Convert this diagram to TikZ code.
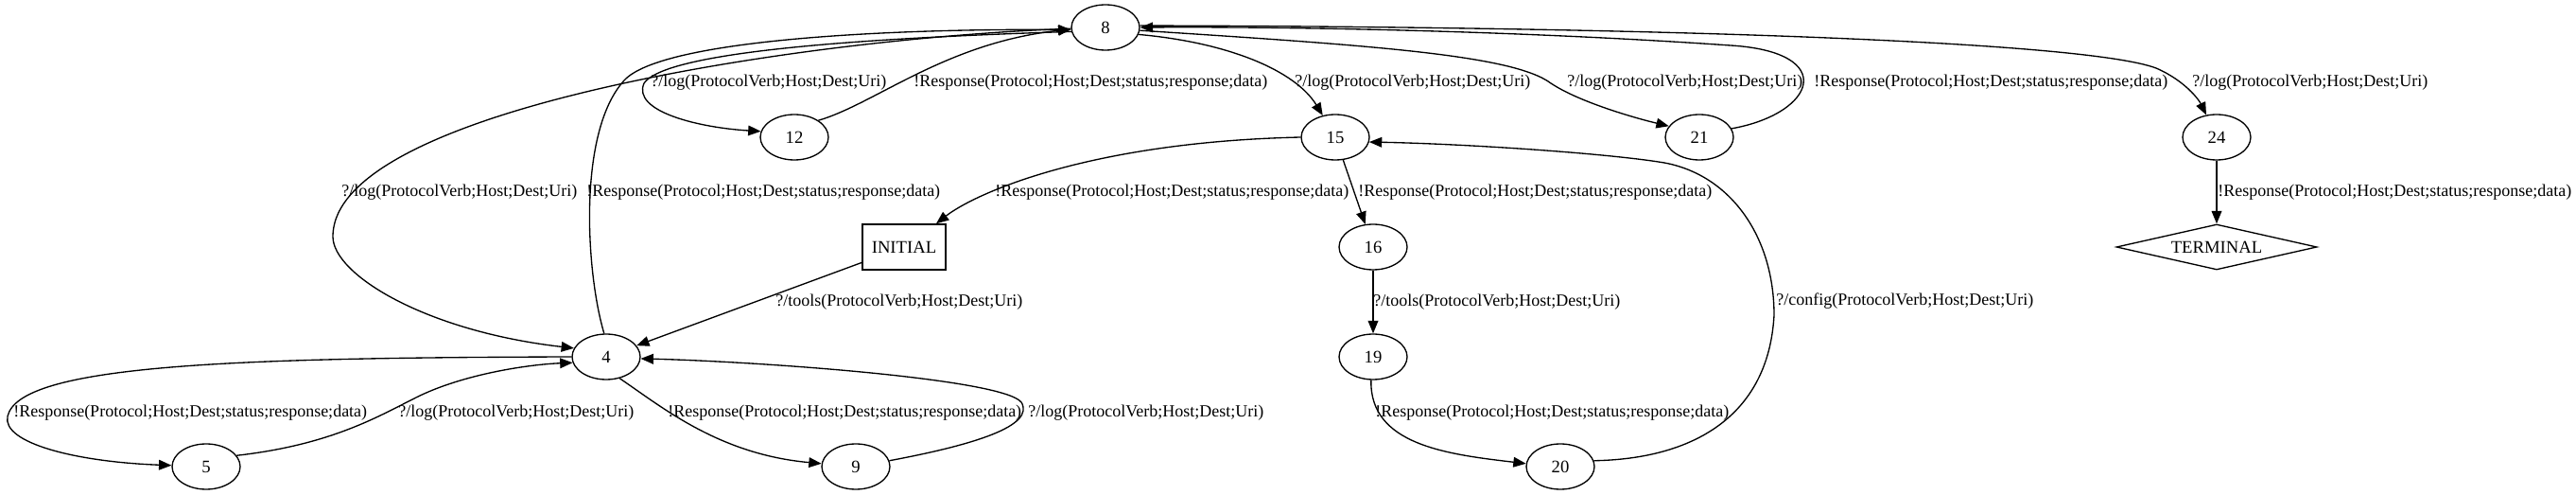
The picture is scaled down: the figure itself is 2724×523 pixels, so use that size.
\documentclass[tikz,border=0pt]{standalone}
\usepackage{fontspec}
\setmainfont{Liberation Serif}
\usetikzlibrary{shapes.geometric,arrows.meta}
\begin{document}
\begin{tikzpicture}[x=0.75pt,y=-0.75pt,
  st/.style={draw, ellipse, line width=1pt, minimum width=54pt, minimum height=36pt, inner sep=0pt, font=\fontsize{14}{16}\selectfont},
  boxst/.style={draw, rectangle, line width=1pt, minimum width=66pt, minimum height=36pt, inner sep=0pt, font=\fontsize{14}{16}\selectfont},
  termst/.style={draw, diamond, aspect=4.4, line width=1pt, minimum width=159pt, minimum height=36pt, inner sep=0pt, font=\fontsize{14}{16}\selectfont},
  edge/.style={draw, line width=1pt, -{Triangle[length=10pt,width=8pt]}},
  lbl/.style={anchor=west, inner sep=0pt, font=\fontsize{13.5}{16}\selectfont}
]
\useasboundingbox (0,0) rectangle (2724,523);

% states
\node[st] (n8) at (1169,29) {8};
\node[st] (n12) at (840,145) {12};
\node[st] (n15) at (1412,145) {15};
\node[st] (n21) at (1797,145) {21};
\node[st] (n24) at (2344,145) {24};
\node[boxst] (nI) at (956,261) {INITIAL};
\node[st] (n16) at (1452,261) {16};
\node[termst] (nT) at (2344,261) {TERMINAL};
\node[st] (n4) at (641,377) {4};
\node[st] (n19) at (1452,377) {19};
\node[st] (n5) at (218,493) {5};
\node[st] (n9) at (905,493) {9};
\node[st] (n20) at (1650,493) {20};

% transitions
\draw[edge] (n8.187) .. controls (850,42) and (700,60) .. (681,88) .. controls (668,118) and (740,135) .. (n12.170);
\draw[edge] (n12.35) .. controls (925,110) and (1000,45) .. (n8.183);
\draw[edge] (n8.-12) .. controls (1300,45) and (1370,75) .. (n15.120);
\draw[edge] (n8.-5) .. controls (1450,48) and (1600,58) .. (1640,88) .. controls (1670,108) and (1730,125) .. (n21.160);
\draw[edge] (n21.15) .. controls (1920,120) and (1945,55) .. (1830,48) .. controls (1600,32) and (1350,28) .. (n8.east);
\draw[edge] (n8.3) .. controls (1700,28) and (2200,42) .. (2280,72) .. controls (2310,85) and (2325,105) .. (n24.115);
\draw[edge] (n24) -- (nT);
\draw[edge] (n15.west) .. controls (1150,150) and (1030,205) .. (nI.36);
\draw[edge] (n15) -- (n16);
\draw[edge] (n16) -- (n19);
\draw[edge] (nI) -- (n4);
\draw[edge] (n8.182) .. controls (850,40) and (352,115) .. (352,250) .. controls (352,290) and (450,350) .. (n4.165);
\draw[edge] (n4.95) .. controls (620,290) and (610,140) .. (660,85) .. controls (700,41) and (950,30) .. (n8.184);
\draw[edge] (n4.west) .. controls (250,378) and (20,385) .. (8,440) .. controls (2,468) and (80,488) .. (n5.178);
\draw[edge] (n5.20) .. controls (350,470) and (400,440) .. (440,420) .. controls (490,395) and (560,385) .. (n4.190);
\draw[edge] (n4.-58) .. controls (700,430) and (760,480) .. (n9.175);
\draw[edge] (n9.10) .. controls (1030,470) and (1095,450) .. (1080,425) .. controls (1060,400) and (800,382) .. (n4.-3);
\draw[edge] (n19.265) .. controls (1448,470) and (1530,480) .. (n20.175);
\draw[edge] (n20.10) .. controls (1790,485) and (1870,440) .. (1876,333) .. controls (1876,250) and (1830,185) .. (1760,172) .. controls (1700,162) and (1550,152) .. (n15.-8);

% labels
\node[lbl] (l1) at (688,87) {?/log(ProtocolVerb;Host;Dest;Uri)};
\node[lbl] (l2) at (966,87) {!Response(Protocol;Host;Dest;status;response;data)};
\node[lbl] (l3) at (1369,87) {?/log(ProtocolVerb;Host;Dest;Uri)};
\node[lbl] (l4) at (1657,87) {?/log(ProtocolVerb;Host;Dest;Uri)};
\node[lbl] (l5) at (1918,87) {!Response(Protocol;Host;Dest;status;response;data)};
\node[lbl] (l6) at (2318,87) {?/log(ProtocolVerb;Host;Dest;Uri)};
\node[lbl] (l7) at (2345,203) {!Response(Protocol;Host;Dest;status;response;data)};
\node[lbl] (l8) at (1052,203) {!Response(Protocol;Host;Dest;status;response;data)};
\node[lbl] (l9) at (1436,203) {!Response(Protocol;Host;Dest;status;response;data)};
\node[lbl] (l10) at (1452,319) {?/tools(ProtocolVerb;Host;Dest;Uri)};
\node[lbl] (l11) at (820,319) {?/tools(ProtocolVerb;Host;Dest;Uri)};
\node[lbl] (l12) at (361,203) {?/log(ProtocolVerb;Host;Dest;Uri)};
\node[lbl] (l13) at (620,203) {!Response(Protocol;Host;Dest;status;response;data)};
\node[lbl] (l14) at (14,436) {!Response(Protocol;Host;Dest;status;response;data)};
\node[lbl] (l15) at (421,436) {?/log(ProtocolVerb;Host;Dest;Uri)};
\node[lbl] (l16) at (706,436) {!Response(Protocol;Host;Dest;status;response;data)};
\node[lbl] (l17) at (1087,436) {?/log(ProtocolVerb;Host;Dest;Uri)};
\node[lbl] (l18) at (1454,436) {!Response(Protocol;Host;Dest;status;response;data)};
\node[lbl] (l19) at (1878,318) {?/config(ProtocolVerb;Host;Dest;Uri)};
\end{tikzpicture}
\end{document}
